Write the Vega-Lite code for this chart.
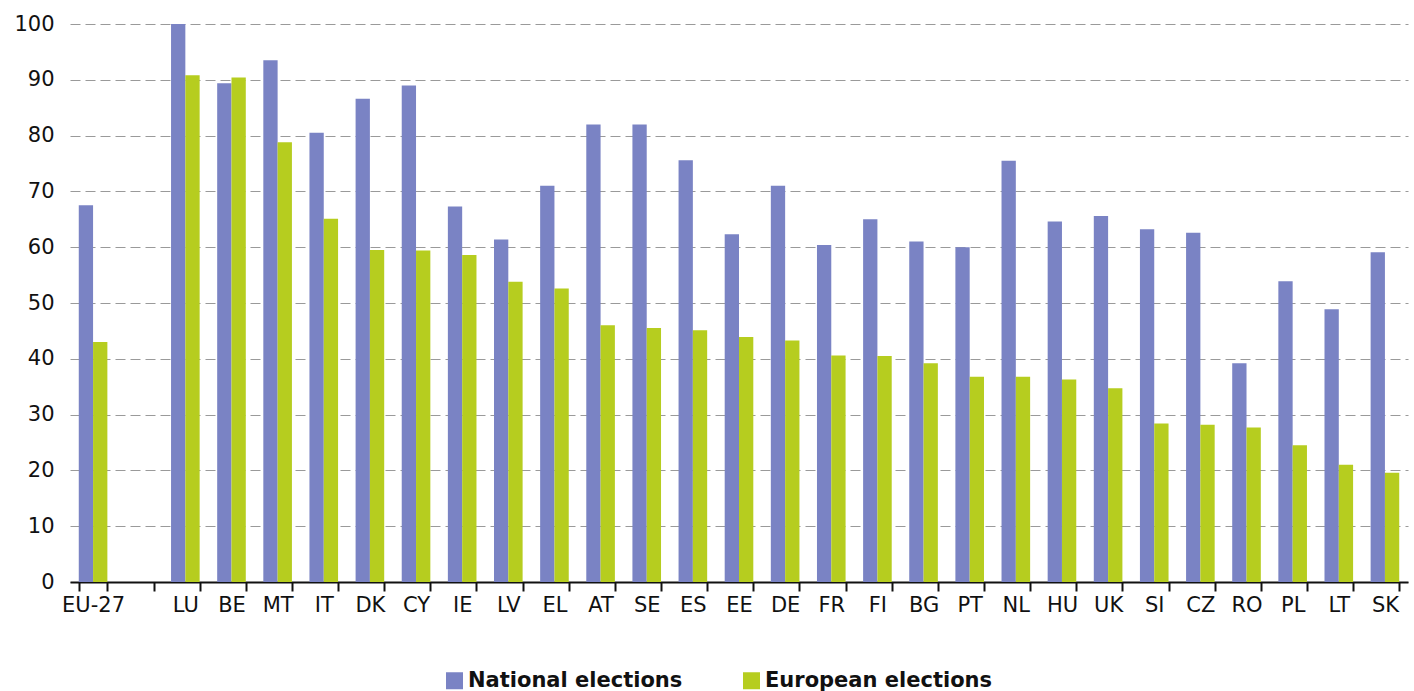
{
  "$schema": "https://vega.github.io/schema/vega-lite/v6.json",
  "width": 1338,
  "height": 558,
  "autosize": {"type": "none"},
  "padding": {"left": 70, "top": 24, "right": 6, "bottom": 109},
  "background": "white",
  "data": {
    "values": [
      {"country": "EU-27", "series": "National elections", "value": 67.5},
      {"country": "EU-27", "series": "European elections", "value": 43.0},
      {"country": "LU", "series": "National elections", "value": 100.0},
      {"country": "LU", "series": "European elections", "value": 90.8},
      {"country": "BE", "series": "National elections", "value": 89.4},
      {"country": "BE", "series": "European elections", "value": 90.4},
      {"country": "MT", "series": "National elections", "value": 93.5},
      {"country": "MT", "series": "European elections", "value": 78.8},
      {"country": "IT", "series": "National elections", "value": 80.5},
      {"country": "IT", "series": "European elections", "value": 65.1},
      {"country": "DK", "series": "National elections", "value": 86.6},
      {"country": "DK", "series": "European elections", "value": 59.5},
      {"country": "CY", "series": "National elections", "value": 89.0},
      {"country": "CY", "series": "European elections", "value": 59.4},
      {"country": "IE", "series": "National elections", "value": 67.3},
      {"country": "IE", "series": "European elections", "value": 58.6},
      {"country": "LV", "series": "National elections", "value": 61.4},
      {"country": "LV", "series": "European elections", "value": 53.8},
      {"country": "EL", "series": "National elections", "value": 71.0},
      {"country": "EL", "series": "European elections", "value": 52.6},
      {"country": "AT", "series": "National elections", "value": 82.0},
      {"country": "AT", "series": "European elections", "value": 46.0},
      {"country": "SE", "series": "National elections", "value": 82.0},
      {"country": "SE", "series": "European elections", "value": 45.5},
      {"country": "ES", "series": "National elections", "value": 75.6},
      {"country": "ES", "series": "European elections", "value": 45.1},
      {"country": "EE", "series": "National elections", "value": 62.3},
      {"country": "EE", "series": "European elections", "value": 43.9},
      {"country": "DE", "series": "National elections", "value": 71.0},
      {"country": "DE", "series": "European elections", "value": 43.3},
      {"country": "FR", "series": "National elections", "value": 60.4},
      {"country": "FR", "series": "European elections", "value": 40.6},
      {"country": "FI", "series": "National elections", "value": 65.0},
      {"country": "FI", "series": "European elections", "value": 40.5},
      {"country": "BG", "series": "National elections", "value": 61.0},
      {"country": "BG", "series": "European elections", "value": 39.2},
      {"country": "PT", "series": "National elections", "value": 60.0},
      {"country": "PT", "series": "European elections", "value": 36.8},
      {"country": "NL", "series": "National elections", "value": 75.5},
      {"country": "NL", "series": "European elections", "value": 36.8},
      {"country": "HU", "series": "National elections", "value": 64.6},
      {"country": "HU", "series": "European elections", "value": 36.3},
      {"country": "UK", "series": "National elections", "value": 65.6},
      {"country": "UK", "series": "European elections", "value": 34.7},
      {"country": "SI", "series": "National elections", "value": 63.2},
      {"country": "SI", "series": "European elections", "value": 28.4},
      {"country": "CZ", "series": "National elections", "value": 62.6},
      {"country": "CZ", "series": "European elections", "value": 28.2},
      {"country": "RO", "series": "National elections", "value": 39.2},
      {"country": "RO", "series": "European elections", "value": 27.7},
      {"country": "PL", "series": "National elections", "value": 53.9},
      {"country": "PL", "series": "European elections", "value": 24.5},
      {"country": "LT", "series": "National elections", "value": 48.9},
      {"country": "LT", "series": "European elections", "value": 21.0},
      {"country": "SK", "series": "National elections", "value": 59.1},
      {"country": "SK", "series": "European elections", "value": 19.6}
    ]
  },
  "mark": {"type": "bar"},
  "encoding": {
    "x": {
      "field": "country",
      "type": "nominal",
      "scale": {
        "domain": ["EU-27", "_", "LU", "BE", "MT", "IT", "DK", "CY", "IE", "LV", "EL", "AT", "SE", "ES", "EE", "DE", "FR", "FI", "BG", "PT", "NL", "HU", "UK", "SI", "CZ", "RO", "PL", "LT", "SK"],
        "paddingInner": 0.38,
        "paddingOuter": 0.19
      },
      "axis": {
        "title": null,
        "labelAngle": 0,
        "labelExpr": "datum.value == '_' ? '' : datum.value",
        "labelFont": "DejaVu Sans",
        "labelFontSize": 21,
        "labelColor": "#111",
        "labelPadding": 3,
        "tickBand": "extent",
        "tickColor": "#111",
        "tickWidth": 2,
        "tickSize": 9,
        "domainColor": "#111",
        "domainWidth": 2,
        "grid": false
      }
    },
    "xOffset": {
      "field": "series",
      "type": "nominal",
      "sort": ["National elections", "European elections"],
      "scale": {"paddingInner": 0, "paddingOuter": 0}
    },
    "y": {
      "field": "value",
      "type": "quantitative",
      "scale": {"domain": [0, 100], "nice": false},
      "axis": {
        "title": null,
        "values": [0, 10, 20, 30, 40, 50, 60, 70, 80, 90, 100],
        "labelFont": "DejaVu Sans",
        "labelFontSize": 21,
        "labelColor": "#111",
        "labelPadding": 16,
        "domain": false,
        "ticks": false,
        "grid": true,
        "gridDash": [10, 5],
        "gridColor": "#9a9a9a",
        "gridWidth": 1.2
      }
    },
    "color": {
      "field": "series",
      "type": "nominal",
      "sort": ["National elections", "European elections"],
      "scale": {
        "domain": ["National elections", "European elections"],
        "range": ["#7a83c4", "#b6cd1f"]
      },
      "legend": {
        "title": null,
        "orient": "none",
        "legendX": 374,
        "legendY": 646,
        "direction": "horizontal",
        "symbolType": "square",
        "symbolSize": 289,
        "symbolStrokeWidth": 0,
        "labelFont": "DejaVu Sans",
        "labelFontSize": 21,
        "labelFontWeight": "bold",
        "labelColor": "#111",
        "labelLimit": 0,
        "labelOffset": 3,
        "columnPadding": 58
      }
    }
  },
  "config": {"view": {"stroke": null}}
}
